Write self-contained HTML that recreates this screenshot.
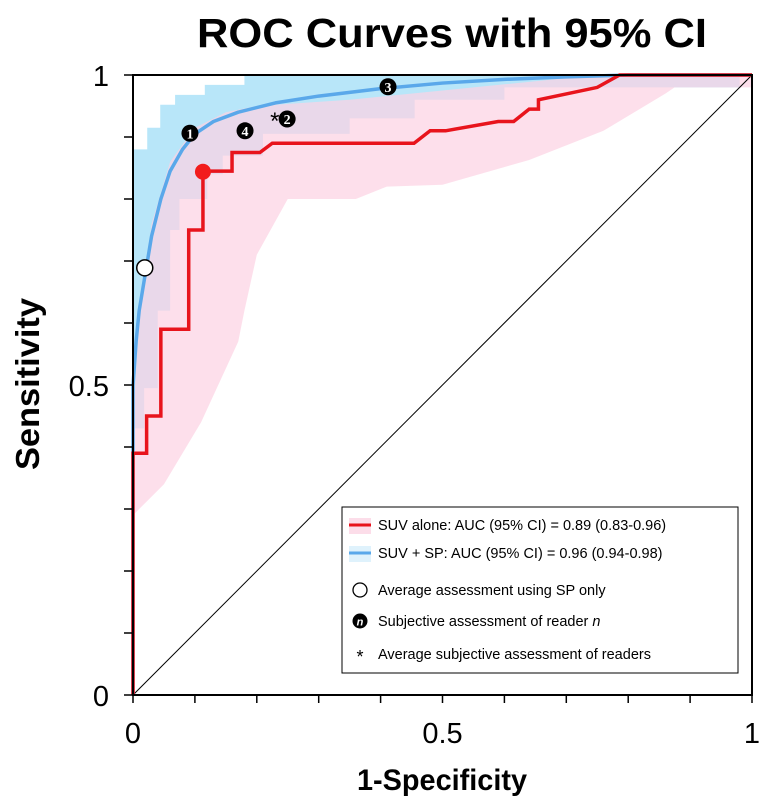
<!DOCTYPE html>
<html><head><meta charset="utf-8"><style>
body{margin:0;background:#fff;}
svg{display:block;font-family:"Liberation Sans",sans-serif;}
</style></head><body>
<svg id="chart" width="763" height="807" viewBox="0 0 763 807">
<text x="452" y="47" text-anchor="middle" font-size="41" font-weight="bold" textLength="510" lengthAdjust="spacingAndGlyphs">ROC Curves with 95% CI</text>
<text x="442" y="790" text-anchor="middle" font-size="30" font-weight="bold" textLength="170" lengthAdjust="spacingAndGlyphs">1-Specificity</text>
<text transform="translate(39,384) rotate(-90)" text-anchor="middle" font-size="33" font-weight="bold" textLength="172" lengthAdjust="spacingAndGlyphs">Sensitivity</text>
<g id="plot"></g>
<g id="legend">
<rect x="342" y="507" width="396" height="166" fill="#fff" stroke="#000" stroke-width="1"/>
<g>
<rect x="349" y="518" width="22" height="16" fill="#fcdde9"/><line x1="349" y1="525" x2="371" y2="525" stroke="#e8141c" stroke-width="3"/>
<text x="378" y="530" font-size="14.5">SUV alone: AUC (95% CI) = 0.89 (0.83-0.96)</text></g>
<g>
<rect x="349" y="546" width="22" height="16" fill="#dff2fc"/><line x1="349" y1="553" x2="371" y2="553" stroke="#5aa8ea" stroke-width="3"/>
<text x="378" y="558" font-size="14.5">SUV + SP: AUC (95% CI) = 0.96 (0.94-0.98)</text></g>
<g>
<circle cx="360" cy="590" r="7" fill="#fff" stroke="#000" stroke-width="1.3"/>
<text x="378" y="595" font-size="14.5">Average assessment using SP only</text></g>
<g>
<circle cx="360" cy="621" r="7.5" fill="#000"/><text x="360" y="625.5" text-anchor="middle" font-size="11" font-style="italic" font-weight="bold" fill="#fff">n</text>
<text x="378" y="626" font-size="14.5">Subjective assessment of reader <tspan font-style="italic">n</tspan></text></g>
<g>
<text x="360" y="663" text-anchor="middle" font-size="18">*</text>
<text x="378" y="659" font-size="14.5">Average subjective assessment of readers</text></g>
</g>
</svg>
<script>
const redX=[0,0,0.022,0.022,0.045,0.045,0.09,0.09,0.113,0.113,0.16,0.16,0.205,0.225,0.454,0.48,0.505,0.59,0.615,0.64,0.655,0.655,0.75,0.786,1];
const redY=[0,0.39,0.39,0.45,0.45,0.59,0.59,0.75,0.75,0.845,0.845,0.875,0.875,0.89,0.89,0.91,0.91,0.925,0.925,0.945,0.945,0.96,0.98,1,1];
const blueX=[0,0,0.005,0.01,0.02,0.03,0.045,0.06,0.08,0.1,0.13,0.17,0.23,0.3,0.4,0.5,0.6,0.7,0.8,1];
const blueY=[0,0.5,0.57,0.62,0.68,0.74,0.8,0.845,0.88,0.905,0.925,0.94,0.955,0.966,0.978,0.987,0.993,0.997,1,1];
const blueHiX=[0,0.023,0.023,0.044,0.044,0.068,0.068,0.116,0.116,0.18,0.18,1];
const blueHiY=[0.88,0.88,0.915,0.915,0.952,0.952,0.968,0.968,0.984,0.984,1,1];
const blueLoX=[0,0.018,0.018,0.04,0.04,0.06,0.06,0.075,0.075,0.12,0.12,0.145,0.145,0.21,0.21,0.35,0.35,0.455,0.455,0.6,0.6,0.98,0.98,1];
const blueLoY=[0.43,0.43,0.495,0.495,0.62,0.62,0.75,0.75,0.80,0.80,0.84,0.84,0.87,0.87,0.905,0.905,0.93,0.93,0.96,0.96,0.98,0.98,1,1];
const redHiX=[0,0.01,0.03,0.06,0.1,0.15,0.2,0.35,0.5,0.6,0.75,1];
const redHiY=[0.45,0.6,0.76,0.86,0.915,0.94,0.95,0.96,0.975,0.985,1,1];
const redLoX=[0,0.05,0.11,0.17,0.18,0.2,0.25,0.36,0.41,0.5,0.64,0.76,0.86,0.875,1,1];
const redLoY=[0.29,0.34,0.44,0.57,0.62,0.71,0.80,0.80,0.82,0.823,0.863,0.91,0.97,0.98,0.98,1];
const readerLabels=["1","2","3","4"];
const readerX=[0.092,0.249,0.412,0.181];
const readerY=[0.906,0.929,0.981,0.91];
const avgReaderX=[0.229], avgReaderY=[0.932];
const spOnlyX=[0.019], spOnlyY=[0.689];
const cutX=[0.113], cutY=[0.844];
const xTickLabels=["0","0.5","1"], xTickVals=[0,0.5,1];
const yTickLabels=["0","0.5","1"], yTickVals=[0,0.5,1];

const L=133,R=752,T=75,B=695;
const sx=v=>L+v*(R-L), sy=v=>B-v*(B-T);
const NS="http://www.w3.org/2000/svg";
const plot=document.getElementById('plot');
function mk(tag,attrs,parent){const e=document.createElementNS(NS,tag);for(const k in attrs)e.setAttribute(k,attrs[k]);(parent||plot).appendChild(e);return e;}
function pts(xs,ys){return xs.map((x,i)=>sx(x)+','+sy(ys[i]));}
function band(hx,hy,lx,ly){const a=pts(hx,hy),b=pts(lx,ly).reverse();return a.concat(b).join(' ');}
mk('rect',{x:L,y:T,width:R-L,height:B-T,fill:'#fff'});
let e;
e=mk('polygon',{points:band(blueHiX,blueHiY,blueLoX,blueLoY),fill:'#b8e6f9'});


e=mk('polygon',{points:band(redHiX,redHiY,redLoX,redLoY),fill:'#fcd2e3','fill-opacity':'0.72'});


e=mk('line',{x1:sx(0),y1:sy(0),x2:sx(1),y2:sy(1),stroke:'#000','stroke-width':1});


e=mk('polyline',{points:pts(blueX,blueY).join(' '),fill:'none',stroke:'#5aa8ea','stroke-width':3.5,'stroke-linejoin':'round'});


e=mk('polyline',{points:pts(redX,redY).join(' '),fill:'none',stroke:'#e8141c','stroke-width':3.5});


e=mk('rect',{x:L,y:T,width:R-L,height:B-T,fill:'none',stroke:'#000','stroke-width':2});


for(let i=0;i<=10;i++){const v=i/10;
 mk('line',{x1:L-9,y1:sy(v),x2:L,y2:sy(v),stroke:'#000','stroke-width':1.5});
 mk('line',{x1:sx(v),y1:B,x2:sx(v),y2:B+8,stroke:'#000','stroke-width':1.5});}
xTickLabels.forEach((t,i)=>{e=mk('text',{x:sx(xTickVals[i]),y:B+48,'text-anchor':'middle','font-size':29});e.textContent=t;

});
yTickLabels.forEach((t,i)=>{e=mk('text',{x:L-24,y:sy(yTickVals[i])+11,'text-anchor':'end','font-size':29});e.textContent=t;

});
e=mk('circle',{cx:sx(spOnlyX[0]),cy:sy(spOnlyY[0]),r:8,fill:'#fff',stroke:'#000','stroke-width':1.5});


e=mk('circle',{cx:sx(cutX[0]),cy:sy(cutY[0]),r:8,fill:'#f21c1c'});


e=mk('text',{x:sx(avgReaderX[0]),y:sy(avgReaderY[0])+12,'text-anchor':'middle','font-size':24});e.textContent='*';


readerLabels.forEach((t,i)=>{const g=mk('g',{});


mk('circle',{cx:sx(readerX[i]),cy:sy(readerY[i]),r:8.5,fill:'#000'},g);
const tx=mk('text',{x:sx(readerX[i]),y:sy(readerY[i])+5,'text-anchor':'middle','font-size':14,'font-weight':'bold',fill:'#fff','font-family':'Liberation Serif, serif'},g);tx.textContent=t;});
</script>
</body></html>
